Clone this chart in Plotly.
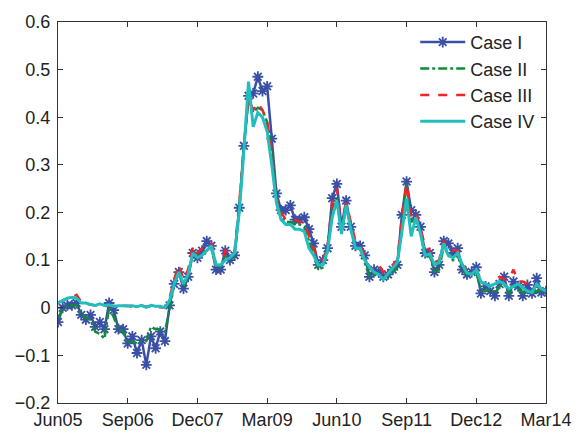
import plotly.graph_objects as go

months = list(range(106))
tick_pos = [0, 15, 30, 45, 60, 75, 90, 105]
tick_labels = ["Jun05", "Sep06", "Dec07", "Mar09", "Jun10", "Sep11", "Dec12", "Mar14"]
y_ticks = [-0.2, -0.1, 0, 0.1, 0.2, 0.3, 0.4, 0.5, 0.6]
y_labels = ["\u22120.2", "\u22120.1", "0", "0.1", "0.2", "0.3", "0.4", "0.5", "0.6"]

case1 = [-0.03, 0.0, 0.005, 0.005, 0.01, -0.015, -0.025, -0.015, -0.04, -0.03,
         -0.045, 0.01, -0.005, -0.045, -0.045, -0.075, -0.06, -0.095, -0.068, -0.12,
         -0.06, -0.085, -0.05, -0.07, 0.005, 0.05, 0.075, 0.04, 0.065, 0.115,
         0.105, 0.12, 0.14, 0.13, 0.08, 0.08, 0.12, 0.1, 0.11, 0.21,
         0.34, 0.445, 0.45, 0.485, 0.455, 0.465, 0.355, 0.24, 0.205, 0.205,
         0.215, 0.185, 0.185, 0.19, 0.165, 0.135, 0.09, 0.1, 0.125, 0.23,
         0.26, 0.17, 0.225, 0.17, 0.13, 0.13, 0.11, 0.065, 0.08, 0.075,
         0.065, 0.07, 0.08, 0.09, 0.195, 0.265, 0.205, 0.195, 0.17, 0.115,
         0.115, 0.075, 0.09, 0.14, 0.135, 0.115, 0.125, 0.08, 0.07, 0.075,
         0.085, 0.03, 0.045, 0.035, 0.025, 0.05, 0.065, 0.025, 0.055, 0.045,
         0.025, 0.048, 0.03, 0.062, 0.032, 0.035]

case2 = [-0.02, -0.005, 0.005, 0.005, 0.005, -0.015, -0.02, -0.025, -0.05, -0.055,
         -0.065, 0.0, -0.02, -0.045, -0.05, -0.075, -0.07, -0.075, -0.07, -0.07,
         -0.04, -0.045, -0.045, -0.05, -0.005, 0.05, 0.075, 0.045, 0.065, 0.115,
         0.105, 0.115, 0.12, 0.13, 0.085, 0.085, 0.11, 0.1, 0.11, 0.21,
         0.34, 0.44, 0.41, 0.42, 0.415, 0.39, 0.33, 0.23, 0.19, 0.18,
         0.18, 0.175, 0.175, 0.17, 0.14, 0.115, 0.08, 0.085, 0.12, 0.21,
         0.23, 0.16, 0.215, 0.165, 0.125, 0.125, 0.095, 0.065, 0.07, 0.07,
         0.06, 0.065, 0.075, 0.085, 0.18, 0.26, 0.18, 0.19, 0.16, 0.105,
         0.11, 0.075, 0.08, 0.13, 0.11, 0.1, 0.11, 0.08, 0.07, 0.07,
         0.075, 0.035, 0.035, 0.04, 0.03, 0.045, 0.05, 0.03, 0.04, 0.045,
         0.03, 0.035, 0.03, 0.035, 0.035, 0.035]

case3 = [0.01, 0.015, 0.02, 0.022, 0.027, 0.012, 0.008, 0.007, 0.005, 0.006,
         0.003, 0.005, 0.003, 0.002, 0.004, 0.003, 0.003, 0.002, 0.004, 0.002,
         0.003, 0.002, 0.0, 0.0, 0.02, 0.06, 0.09, 0.06, 0.08, 0.13,
         0.115, 0.125, 0.13, 0.135, 0.09, 0.09, 0.12, 0.11, 0.12, 0.22,
         0.34, 0.44, 0.415, 0.43, 0.415, 0.39, 0.33, 0.23, 0.2, 0.185,
         0.185, 0.185, 0.18, 0.18, 0.15, 0.125, 0.1, 0.1, 0.13, 0.22,
         0.25, 0.175, 0.22, 0.18, 0.14, 0.13, 0.11, 0.085, 0.08, 0.09,
         0.075, 0.08, 0.09, 0.1, 0.19, 0.26, 0.19, 0.2, 0.165, 0.13,
         0.12, 0.095, 0.1, 0.14, 0.125, 0.12, 0.12, 0.09, 0.08, 0.075,
         0.08, 0.06, 0.05, 0.045, 0.055, 0.065, 0.06, 0.06, 0.08, 0.055,
         0.055, 0.05, 0.04, 0.045, 0.04, 0.035]

case4 = [0.01, 0.015, 0.02, 0.022, 0.02, 0.01, 0.01, 0.007, 0.005, 0.008,
         0.005, 0.006, 0.003, 0.004, 0.004, 0.003, 0.004, 0.002, 0.005, 0.001,
         0.005, 0.003, 0.003, 0.0, 0.015, 0.05, 0.075, 0.05, 0.07, 0.115,
         0.105, 0.11, 0.12, 0.13, 0.09, 0.09, 0.1, 0.105, 0.115, 0.2,
         0.33, 0.475, 0.38, 0.41, 0.4, 0.37, 0.3, 0.22, 0.185, 0.175,
         0.175, 0.165, 0.165, 0.16, 0.125, 0.11, 0.09, 0.09, 0.12, 0.19,
         0.225, 0.155, 0.215, 0.165, 0.125, 0.125, 0.1, 0.085, 0.075, 0.07,
         0.06, 0.072, 0.082, 0.095, 0.16, 0.23, 0.15, 0.19, 0.155, 0.11,
         0.113, 0.09, 0.095, 0.135, 0.11, 0.105, 0.115, 0.09, 0.073, 0.07,
         0.08, 0.055, 0.05, 0.045, 0.05, 0.055, 0.05, 0.04, 0.045, 0.05,
         0.042, 0.035, 0.032, 0.05, 0.04, 0.035]

fig = go.Figure()
fig.add_trace(go.Scatter(x=months, y=case1, name="Case I", mode="lines+markers",
                         line=dict(color="#3A4FA6", width=2.5),
                         marker=dict(symbol="asterisk-open", size=9,
                                     line=dict(color="#3A4FA6", width=1.8)),
                         legendgroup="g1"))
fig.add_trace(go.Scatter(x=months, y=case2, name="Case II", mode="lines",
                         line=dict(color="#118A3A", width=2.5, dash="dashdot"),
                         legendgroup="g2"))
fig.add_trace(go.Scatter(x=months, y=case3, name="Case III", mode="lines",
                         line=dict(color="#F02424", width=2.5, dash="dash"),
                         legendgroup="g3"))
fig.add_trace(go.Scatter(x=months, y=case4, name="Case IV", mode="lines",
                         line=dict(color="#22BEBE", width=3),
                         legendgroup="g4"))

axis_common = dict(showgrid=False, zeroline=False, showline=True, linecolor="#333333",
                   linewidth=1, mirror="ticks", ticks="inside", ticklen=5,
                   tickcolor="#333333", tickfont=dict(family="Liberation Sans, Arial",
                                                      size=18, color="#222222"))
fig.update_xaxes(range=[0, 105], tickvals=tick_pos, ticktext=tick_labels,
                 ticklabeloverflow="allow", **axis_common)
fig.update_yaxes(range=[-0.2, 0.6], tickvals=y_ticks, ticktext=y_labels,
                 ticklabelstandoff=3, **axis_common)

fig.update_layout(
    width=584, height=442,
    margin=dict(l=58, r=27, t=15, b=33),
    plot_bgcolor="white", paper_bgcolor="white",
    showlegend=True,
    legend=dict(x=0.732, y=0.995, xanchor="left", yanchor="top",
                bgcolor="rgba(255,255,255,0)", borderwidth=0,
                font=dict(family="Liberation Sans, Arial", size=18, color="#222222"),
                itemwidth=45, tracegroupgap=0, traceorder="grouped"),
)

fig.write_html("out.html")
